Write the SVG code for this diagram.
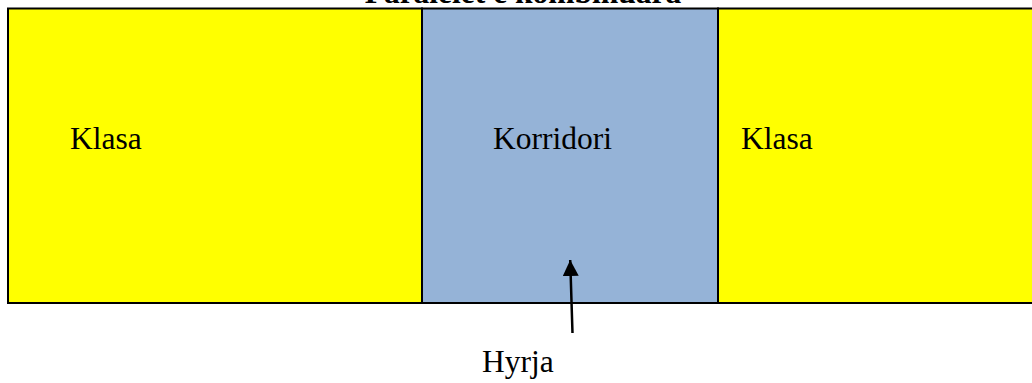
<svg xmlns="http://www.w3.org/2000/svg" width="1032" height="383" viewBox="0 0 1032 383">
<style>
.t{font-family:"Liberation Serif","Times New Roman",serif;font-size:31.5px;fill:#000}
.room{stroke:#000;stroke-width:2}
</style>
<defs>
<marker id="ah" markerUnits="userSpaceOnUse" markerWidth="18" markerHeight="18" refX="16" refY="8" orient="auto">
<path d="M0,0 L16,8 L0,16 Z" fill="#000"/>
</marker>
</defs>
<rect width="1032" height="383" fill="#fff"/>
<text class="t" x="523" y="3" text-anchor="middle" font-weight="bold" font-size="32">Paralelet e kombinuara</text>
<g id="klasa-left">
<rect class="room" x="8" y="8.5" width="414" height="294.5" fill="#FFFF00"/>
<text class="t" x="70" y="149">Klasa</text>
</g>
<g id="korridori">
<rect class="room" x="422" y="8.5" width="296" height="294.5" fill="#95B3D7"/>
<text class="t" x="493" y="149">Korridori</text>
</g>
<g id="klasa-right">
<rect class="room" x="718" y="8.5" width="320" height="294.5" fill="#FFFF00"/>
<text class="t" x="741" y="149">Klasa</text>
</g>
<g id="hyrja">
<text class="t" x="482" y="372">Hyrja</text>
</g>
<g id="connectors">
<line x1="572.5" y1="333" x2="570.2" y2="260" stroke="#000" stroke-width="2.5" marker-end="url(#ah)"/>
</g>
</svg>
